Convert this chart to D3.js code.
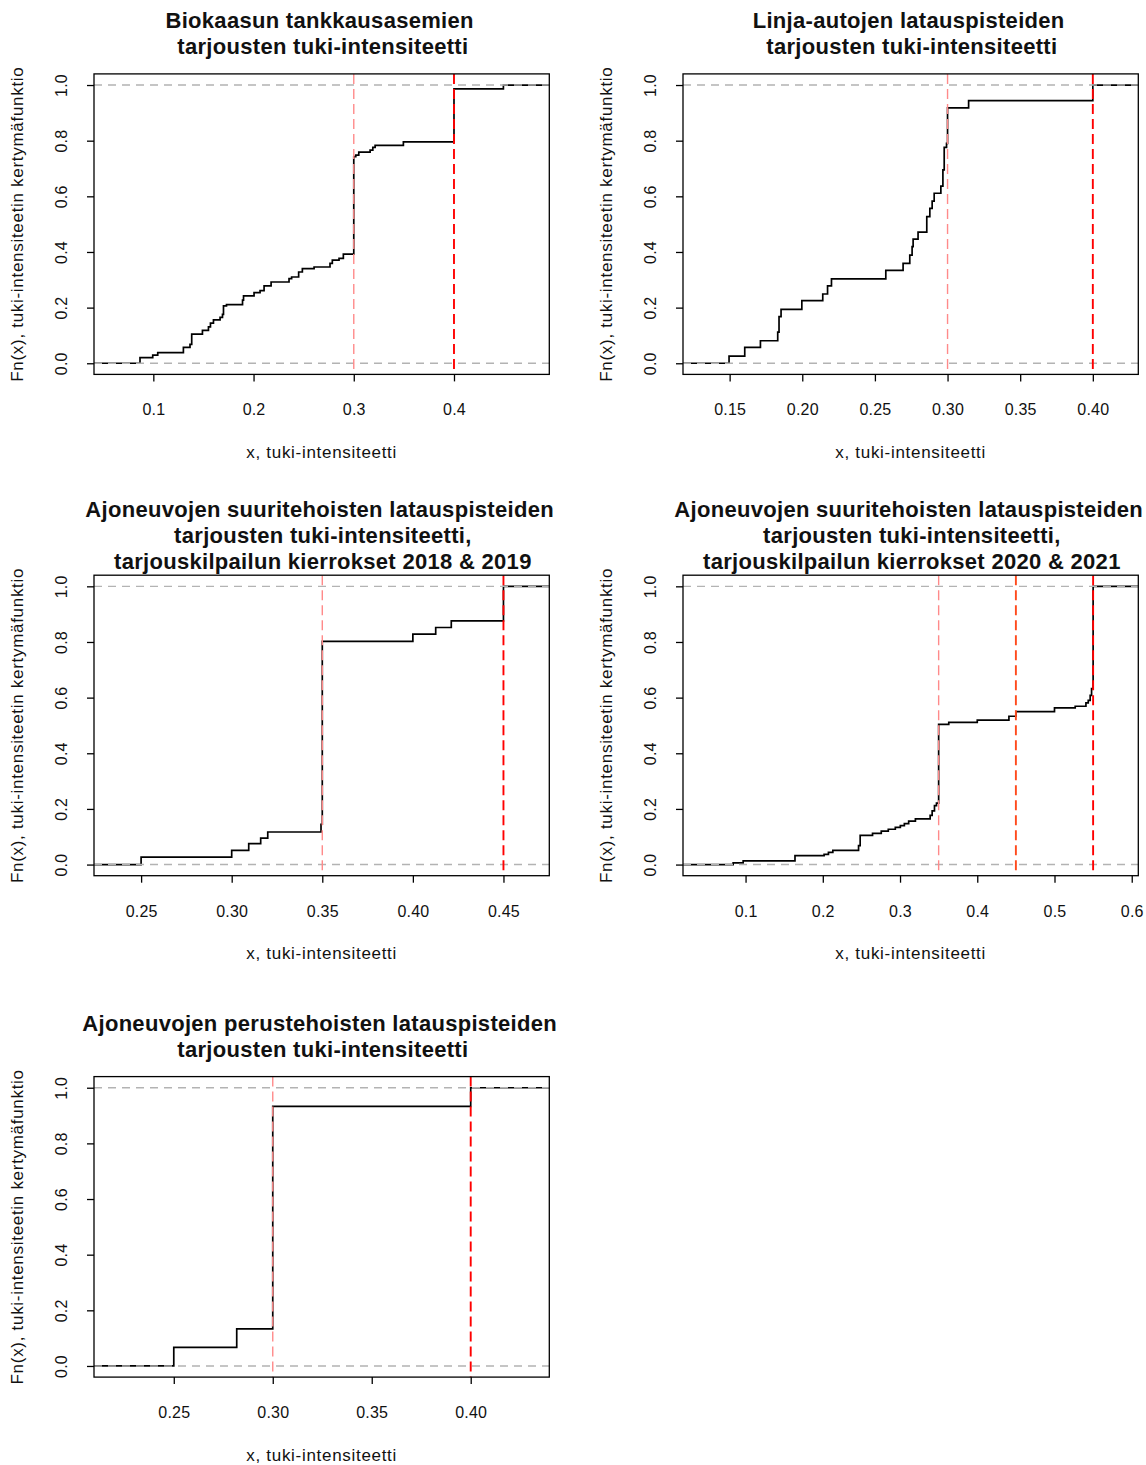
<!DOCTYPE html>
<html lang="fi">
<head>
<meta charset="UTF-8">
<title>Tuki-intensiteettien kertymäfunktiot</title>
<script src="https://d3js.org/d3.v7.min.js"></script>
<style>
    body { margin: 0; background: #fff; }
    svg { display: block; font-family: "Liberation Sans", Arial, sans-serif; }
    .title { font-weight: bold; font-size: 22px; letter-spacing: 0.3px; white-space: pre; }
    .tick text { font-size: 16px; letter-spacing: 0.2px; }
    .lab { font-size: 17px; letter-spacing: 0.7px; }
</style>
</head>
<body>
<svg width="1146" height="1465"></svg>
<script>
// ecdf knots (x) and the Fn level right after each knot
const bioKnots = [0.0867, 0.0994, 0.1044, 0.130, 0.1366, 0.1383, 0.149, 0.155, 0.157, 0.160, 0.1666, 0.169, 0.170, 0.173,
    0.189, 0.190, 0.2005, 0.2065, 0.2105, 0.2175, 0.2354, 0.238, 0.245, 0.2487, 0.2604, 0.2763, 0.2786, 0.2853, 0.2896,
    0.30, 0.302, 0.305, 0.3163, 0.319, 0.3213, 0.3495, 0.40, 0.4493];
const bioFn = [0.020, 0.029, 0.038, 0.057, 0.068, 0.105, 0.118, 0.131, 0.144, 0.156, 0.165, 0.176, 0.206, 0.211,
    0.227, 0.242, 0.254, 0.261, 0.278, 0.292, 0.304, 0.310, 0.328, 0.340, 0.346, 0.359, 0.371, 0.377, 0.392,
    0.743, 0.748, 0.759, 0.766, 0.776, 0.783, 0.796, 0.986, 1.0];

const busKnots = [0.1496, 0.1604, 0.1712, 0.1831, 0.184, 0.1854, 0.1997, 0.2141, 0.2174, 0.2201, 0.2575, 0.2694, 0.274,
    0.2756, 0.2763, 0.2797, 0.2857, 0.2878, 0.2894, 0.2908, 0.2954, 0.2968, 0.2977, 0.2993, 0.30, 0.3145, 0.40];
const busFn = [0.026, 0.057, 0.081, 0.112, 0.168, 0.194, 0.225, 0.249, 0.278, 0.303, 0.334, 0.359, 0.389,
    0.419, 0.446, 0.471, 0.527, 0.557, 0.583, 0.611, 0.637, 0.695, 0.776, 0.790, 0.918, 0.944, 1.0];

const fast1819Knots = [0.25, 0.30, 0.3094, 0.316, 0.3199, 0.3493, 0.35, 0.40, 0.4126, 0.4212, 0.45];
const fast1819Fn = [0.027, 0.051, 0.075, 0.095, 0.117, 0.145, 0.802, 0.828, 0.852, 0.876, 1.0];

const fast2021Knots = [0.0839, 0.0969, 0.164, 0.2017, 0.2073, 0.213, 0.2463, 0.2484, 0.2644, 0.2757, 0.2848, 0.2939,
    0.3004, 0.3056, 0.3112, 0.3199, 0.339, 0.3416, 0.3446, 0.3472, 0.35, 0.3631, 0.40, 0.441, 0.45, 0.50, 0.5268,
    0.5407, 0.5437, 0.5462, 0.548, 0.55];
const fast2021Fn = [0.006, 0.013, 0.032, 0.037, 0.044, 0.051, 0.068, 0.105, 0.112, 0.120, 0.127, 0.134,
    0.140, 0.147, 0.156, 0.164, 0.177, 0.193, 0.212, 0.221, 0.504, 0.511, 0.519, 0.533, 0.550, 0.563, 0.569,
    0.581, 0.590, 0.608, 0.632, 1.0];

const basicKnots = [0.25, 0.2818, 0.30, 0.40];
const basicFn = [0.0667, 0.1333, 0.9333, 1.0];

// reference lines (support limits) per chart
const bioCuts = [0.30, 0.40];
const busCuts = [0.30, 0.40];
const fast1819Cuts = [0.35, 0.45];
const fast2021Cuts = [0.35, 0.45, 0.55];
const basicCuts = [0.30, 0.40];

// tick values
const bioTicks = [0.1, 0.2, 0.3, 0.4];
const busTicks = [0.15, 0.20, 0.25, 0.30, 0.35, 0.40];
const fast1819Ticks = [0.25, 0.30, 0.35, 0.40, 0.45];
const fast2021Ticks = [0.1, 0.2, 0.3, 0.4, 0.5, 0.6];
const basicTicks = [0.25, 0.30, 0.35, 0.40];
const yTicks = [0, 0.2, 0.4, 0.6, 0.8, 1.0];

const titles = [
    ["Biokaasun tankkausasemien", " tarjousten tuki-intensiteetti"],
    ["Linja-autojen latauspisteiden", " tarjousten tuki-intensiteetti"],
    ["Ajoneuvojen suuritehoisten latauspisteiden", " tarjousten tuki-intensiteetti,", " tarjouskilpailun kierrokset 2018 & 2019"],
    ["Ajoneuvojen suuritehoisten latauspisteiden", " tarjousten tuki-intensiteetti,", " tarjouskilpailun kierrokset 2020 & 2021"],
    ["Ajoneuvojen perustehoisten latauspisteiden", " tarjousten tuki-intensiteetti"]
];

const xLabel = "x, tuki-intensiteetti";
const yLabel = "Fn(x), tuki-intensiteetin kertymäfunktio";

const panels = [
    { knots: bioKnots, fn: bioFn, cuts: bioCuts, ticks: bioTicks, fmt: '.1f', xlim: [0.0408, 0.4951], col: 0, row: 0 },
    { knots: busKnots, fn: busFn, cuts: busCuts, ticks: busTicks, fmt: '.2f', xlim: [0.1179, 0.4313], col: 1, row: 0 },
    { knots: fast1819Knots, fn: fast1819Fn, cuts: fast1819Cuts, ticks: fast1819Ticks, fmt: '.2f', xlim: [0.224, 0.4753], col: 0, row: 1 },
    { knots: fast2021Knots, fn: fast2021Fn, cuts: fast2021Cuts, ticks: fast2021Ticks, fmt: '.1f', xlim: [0.019, 0.6085], col: 1, row: 1 },
    { knots: basicKnots, fn: basicFn, cuts: basicCuts, ticks: basicTicks, fmt: '.2f', xlim: [0.2097, 0.4397], col: 0, row: 2 }
];

const svg = d3.select('svg');
const colLeft = [94, 683];
const rowTop = [73.9, 575.2, 1076.6];
const boxW = 455.3, boxH = 300.5;

// colours of the limit lines: lower one pale, upper one full red
function cutColour(i, n) {
    if (i === n - 1) return '#ff0000';
    if (i === 0) return '#ff8a8a';
    return '#ff4a1c';
}

panels.forEach((p, idx) => {
    const left = colLeft[p.col], top = rowTop[p.row];
    const g = svg.append('g');

    const x = d3.scaleLinear().domain(p.xlim).range([left, left + boxW]);
    const y = d3.scaleLinear().domain([-0.04, 1.04]).range([top + boxH, top]);

    const clipId = 'clip' + idx;
    svg.append('clipPath').attr('id', clipId)
        .append('rect').attr('x', left).attr('y', top).attr('width', boxW).attr('height', boxH);

    const plot = g.append('g').attr('clip-path', `url(#${clipId})`);

    // step function, extended past both edges
    const pts = [[p.xlim[0] - 1, 0]].concat(p.knots.map((k, i) => [k, p.fn[i]]), [[p.xlim[1] + 1, 1]]);
    plot.append('path')
        .attr('d', d3.line().x(d => x(d[0])).y(d => y(d[1])).curve(d3.curveStepAfter)(pts))
        .attr('fill', 'none')
        .attr('stroke', '#000')
        .attr('stroke-width', 1.7);

    // grey 0 / 1 lines
    plot.selectAll('.h01')
        .data([0, 1])
        .enter().append('line')
        .attr('x1', left).attr('x2', left + boxW)
        .attr('y1', d => y(d)).attr('y2', d => y(d))
        .attr('stroke', '#b3b3b3')
        .attr('stroke-width', 1.4)
        .attr('stroke-dasharray', '8,6');

    // limit lines
    plot.selectAll('.cut')
        .data(p.cuts)
        .enter().append('line')
        .attr('x1', d => x(d)).attr('x2', d => x(d))
        .attr('y1', top).attr('y2', top + boxH)
        .attr('stroke', (d, i) => cutColour(i, p.cuts.length))
        .attr('stroke-width', (d, i) => i === 0 ? 1.4 : 1.9)
        .attr('stroke-dasharray', '10,5');

    g.append('rect')
        .attr('x', left).attr('y', top).attr('width', boxW).attr('height', boxH)
        .attr('fill', 'none').attr('stroke', '#000').attr('stroke-width', 1.3);

    // axes
    const xAxis = g.append('g')
        .attr('transform', `translate(0,${top + boxH})`)
        .call(d3.axisBottom(x).tickValues(p.ticks).tickFormat(d3.format(p.fmt)).tickSize(7).tickSizeOuter(0));
    xAxis.select('.domain').remove();
    xAxis.selectAll('.tick text').attr('y', 41).attr('dy', 0).attr('fill', '#111');
    xAxis.selectAll('.tick line').attr('stroke-width', 1.3);

    const yAxis = g.append('g')
        .attr('transform', `translate(${left},0)`)
        .call(d3.axisLeft(y).tickValues(yTicks).tickFormat(d3.format('.1f')).tickSize(7).tickSizeOuter(0));
    yAxis.select('.domain').remove();
    yAxis.selectAll('.tick line').attr('stroke-width', 1.3);
    yAxis.selectAll('.tick text')
        .attr('x', null).attr('dy', 0)
        .attr('text-anchor', 'middle')
        .attr('fill', '#111')
        .attr('transform', 'translate(-27,0) rotate(-90)');

    // axis titles
    g.append('text')
        .attr('class', 'lab')
        .attr('x', left + boxW / 2).attr('y', top + boxH + 83.5)
        .attr('text-anchor', 'middle').attr('fill', '#111')
        .text(xLabel);

    g.append('text')
        .attr('class', 'lab')
        .attr('transform', `translate(${left - 71},${top + boxH / 2}) rotate(-90)`)
        .attr('text-anchor', 'middle').attr('fill', '#111')
        .text(yLabel);

    // main title, centred lines
    const lines = titles[idx];
    const mid = top - 32.5;
    g.selectAll('.title')
        .data(lines)
        .enter().append('text')
        .attr('class', 'title')
        .attr('xml:space', 'preserve')
        .attr('x', left + boxW / 2 - 2)
        .attr('y', (d, i) => mid + (i - (lines.length - 1) / 2) * 26)
        .attr('text-anchor', 'middle')
        .attr('fill', '#111')
        .text(d => d);
});
</script>
</body>
</html>
